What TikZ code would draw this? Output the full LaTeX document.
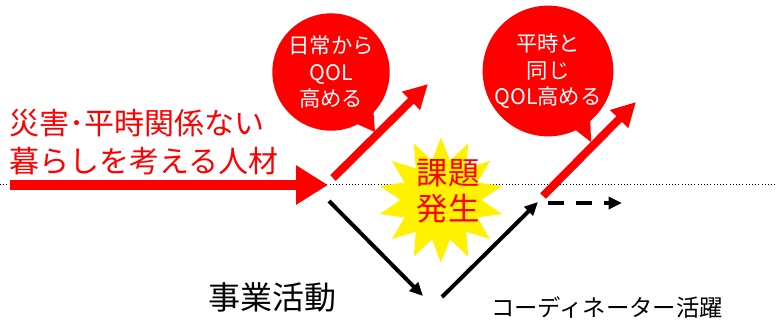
\documentclass[tikz,border=0pt]{standalone}
\usepackage{fontspec}
\setmainfont{Noto Sans CJK JP}
\usetikzlibrary{arrows.meta,shapes.geometric}
\begin{document}
\begin{tikzpicture}[x=0.75pt,y=-0.75pt,
  bubble/.style={circle, fill=red, text=white, minimum size=88pt, inner sep=0pt, align=center, font=\fontsize{16}{20}\selectfont},
  burst/.style={star, star points=14, star point ratio=1.55, fill=yellow, minimum size=94pt, inner sep=0pt},
  bigred/.style={red, line width=7.5pt, -{Triangle[length=24pt,width=28pt]}},
  redup/.style={red, line width=6pt, -{Triangle[length=18pt,width=18pt]}},
  blk/.style={black, line width=3pt, -{Triangle[length=10pt,width=9pt]}}]
    \useasboundingbox (0,0) rectangle (779,322);

    \coordinate (1) at (0,184);
    \coordinate (2) at (775,184);
    \draw[dotted] (1) -- (2);

    \node[burst] (3) at (441,200) {};
    \node[] (4) [text=red, align=center, font=\fontsize{23.5}{27}\selectfont] at (448,191) {課題\\発生};

    \node[] (5) [text=red, align=left, anchor=west, inner sep=0pt, font=\fontsize{22.5}{28}\selectfont] at (9,142)
    {災害･平時関係ない\\暮らしを考える人材};

    \node[bubble] (6) at (331,72) {日常から\\QOL\\高める};
    \node[bubble] (7) at (548,71) {平時と\\同じ\\QOL高める};
    \fill[red] (357,124) -- (375,132) -- (373,106) -- cycle;
    \fill[red] (573,128) -- (591,142) -- (590,110) -- cycle;

    \node[] (8) [font=\fontsize{24}{28}\selectfont] at (272,297) {事業活動};
    \node[] (9) [font=\fontsize{17.5}{20}\selectfont] at (607,307) {コーディネーター活躍};

    \coordinate (10) at (10,185);
    \coordinate (11) at (328,185);
    \coordinate (12) at (333,178);
    \coordinate (13) at (428,84);
    \coordinate (14) at (329,201);
    \coordinate (15) at (423,296);
    \coordinate (16) at (442,297);
    \coordinate (17) at (538,202);
    \coordinate (18) at (543,196);
    \coordinate (19) at (636,102);
    \coordinate (20) at (548,203);
    \coordinate (21) at (622,203);

    \draw[bigred] (10) -- (11);
    \draw[redup] (12) -- (13);
    \draw[blk] (14) -- (15);
    \draw[blk] (16) -- (17);
    \draw[redup] (18) -- (19);
    \draw[blk, dash pattern=on 12pt off 9pt] (20) -- (21);
\end{tikzpicture}
\end{document}
